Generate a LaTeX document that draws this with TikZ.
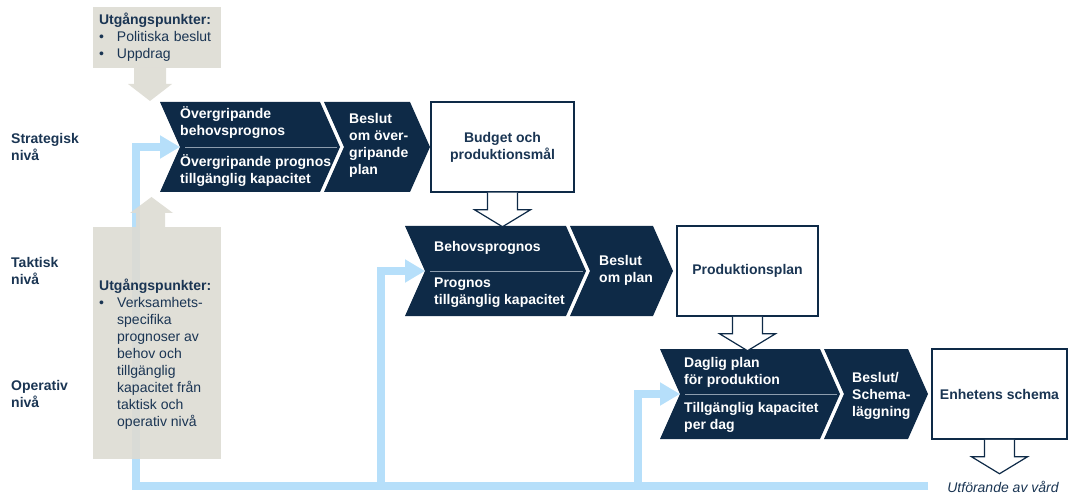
\documentclass[tikz,border=0pt]{standalone}
\usepackage{fontspec}
\setmainfont{Liberation Sans}
\usetikzlibrary{arrows.meta}

\definecolor{navy}{HTML}{0E2A47}
\definecolor{textnavy}{HTML}{1A3553}
\definecolor{inputgray}{HTML}{DDDBD3}
\definecolor{fbblue}{HTML}{B6DFFA}
\definecolor{sepgray}{HTML}{8D9DAE}

\newcommand{\bul}{\makebox[18pt][l]{\textbullet}}
\newcommand{\ind}{\hspace*{18pt}}

\begin{document}
\begin{tikzpicture}[x=1pt,y=-1pt,font=\fontsize{14}{17}\selectfont]
    \tikzstyle{level}=[anchor=west,align=left,inner sep=0pt,text=textnavy,font=\fontsize{14}{17}\selectfont\bfseries]
    \tikzstyle{chevtext}=[anchor=west,align=left,inner sep=0pt,text=white,font=\fontsize{14}{17}\selectfont\bfseries]
    \tikzstyle{planbox}=[draw=navy,line width=1.5pt,fill=white,inner sep=0pt,align=center,text=textnavy,font=\fontsize{14}{17}\selectfont\bfseries]
    \tikzstyle{inputbox}=[fill=inputgray,fill opacity=0.9,text opacity=1,inner sep=0pt]
    \tikzstyle{inputtext}=[align=left,inner sep=0pt,text=textnavy]
    \tikzstyle{inputarrow}=[fill=inputgray,fill opacity=0.9]
    \tikzstyle{feedback}=[draw=fbblue,line width=8pt,-{Triangle[length=20pt,width=22pt]}]
    \tikzstyle{hollow}=[draw=navy,line width=1.2pt,fill=white,line join=miter]
    \tikzstyle{separator}=[draw=sepgray,line width=0.8pt]

    \useasboundingbox (0,0) rectangle (1075,494);

    % feedback line
    \coordinate (fb-end) at (928,486);
    \coordinate (fb-start) at (136,486);
    \coordinate (fb-beh) at (381,486);
    \coordinate (fb-dag) at (637.5,486);
    \coordinate (ovr-in) at (180,147);
    \coordinate (beh-in) at (425,271);
    \coordinate (dag-in) at (680,394);

    \draw[feedback] (fb-end) -- (fb-start) -- (fb-start |- ovr-in) -- (ovr-in);
    \draw[feedback] (fb-beh) -- (fb-beh |- beh-in) -- (beh-in);
    \draw[feedback] (fb-dag) -- (fb-dag |- dag-in) -- (dag-in);

    % inputs
    \node[inputbox,minimum width=128pt,minimum height=61pt,text width=116pt,inputtext] (in-strat) at (157,37.5)
        {\textbf{Utgångspunkter:}\\\bul Politiska beslut\\\bul Uppdrag};
    \fill[inputarrow] (134,68) -- (134,84) -- (128,84) -- (150,101) -- (172,84) -- (166,84) -- (166,68) -- cycle;

    \node[inputbox,minimum width=128pt,minimum height=232pt] (in-ops) at (157,343) {};
    \fill[inputarrow] (136,227) -- (136,213) -- (130,213) -- (151.5,197) -- (173,213) -- (165,213) -- (165,227) -- cycle;
    \node[inputtext,anchor=north west] (in-ops-text) at (99,279)
        {\textbf{Utgångspunkter:}\\\bul Verksamhets-\\\ind specifika\\\ind prognoser av\\\ind behov och\\\ind tillgänglig\\\ind kapacitet från\\\ind taktisk och\\\ind operativ nivå};

    % chevrons
    \foreach \name/\xl/\xr/\yt in {ovr/160/320/102, ovrbeslut/324/410/102, beh/405/566/226, behbeslut/570/653/226, dag/660/820/349, dagbeslut/824/908/349}
        \fill[navy] (\xl,\yt) -- (\xr,\yt) -- (\xr+20,\yt+45) -- (\xr,\yt+90) -- (\xl,\yt+90) -- (\xl+20,\yt+45) -- cycle;

    \draw[separator] (185,147) -- (337,147);
    \draw[separator] (430,271) -- (583,271);
    \draw[separator] (685,394) -- (837,394);

    \node[chevtext] (ovr-top) at (180,123) {Övergripande\\behovsprognos};
    \node[chevtext] (ovr-bot) at (180,170.5) {Övergripande prognos\\tillgänglig kapacitet};
    \node[chevtext] (ovrbeslut-t) at (349,145.5) {Beslut\\om över-\\gripande\\plan};
    \node[chevtext] (beh-top) at (434,248) {Behovsprognos};
    \node[chevtext] (beh-bot) at (434,293) {Prognos\\tillgänglig kapacitet};
    \node[chevtext] (behbeslut-t) at (599,270.5) {Beslut\\om plan};
    \node[chevtext] (dag-top) at (684,372.5) {Daglig plan\\för produktion};
    \node[chevtext] (dag-bot) at (684,417.5) {Tillgänglig kapacitet\\per dag};
    \node[chevtext] (dagbeslut-t) at (852,395.5) {Beslut/\\Schema-\\läggning};

    % plans
    \node[planbox,minimum width=143pt,minimum height=90pt] (budget) at (502.5,147) {Budget och\\produktionsmål};
    \node[planbox,minimum width=141pt,minimum height=90pt] (prodplan) at (747.5,271) {Produktionsplan};
    \node[planbox,minimum width=135pt,minimum height=90pt] (enhet) at (999.5,394) {Enhetens schema};

    \foreach \plan in {budget,prodplan,enhet}
        \draw[hollow] (\plan.south) ++(-15,0) -- ++(0,17) -- ++(-13,0) -- ++(28,17) -- ++(28,-17) -- ++(-13,0) -- ++(0,-17);

    \node[text=textnavy,font=\fontsize{14}{17}\selectfont\itshape,inner sep=0pt] (utf) at (1003,487) {Utförande av vård};

    % levels
    \node[level] (strat) at (11,146.5) {Strategisk\\nivå};
    \node[level] (takt) at (11,270.5) {Taktisk\\nivå};
    \node[level] (oper) at (11,393.5) {Operativ\\nivå};
\end{tikzpicture}
\end{document}
